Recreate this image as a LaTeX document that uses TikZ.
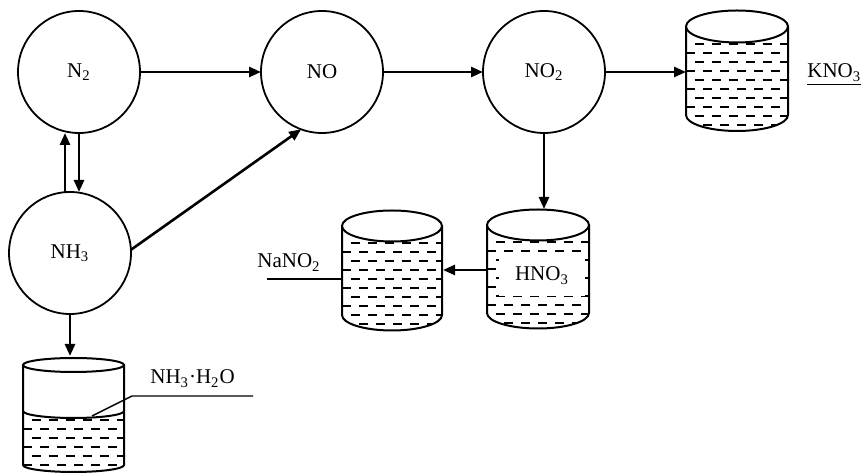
\documentclass[tikz,border=0pt]{standalone}
\usepackage{fontspec}
\setmainfont{Liberation Serif}
\usetikzlibrary{arrows.meta,positioning}

% cx, rx, ry, top y, bottom y, liquid y
\newcommand\drawbeaker[6]{%
  \pgfmathsetmacro\rowa{#6+#3+2}
  \pgfmathsetmacro\rowb{\rowa+9}
  \pgfmathsetmacro\rowz{#5+#3}
  \begin{scope}
    \clip ({#1-#2},#6) arc[start angle=180,end angle=0,x radius=#2,y radius=#3]
      -- ({#1+#2},#5) arc[start angle=0,end angle=180,x radius=#2,y radius=#3] -- cycle;
    \foreach \yy [count=\i] in {\rowa,\rowb,...,\rowz}{
      \pgfmathsetmacro\ph{mod(\i,2)*4.25}
      \draw[liquid,dash phase=\ph pt] ({#1-#2},\yy) -- ({#1+#2},\yy);
    }
  \end{scope}
  \draw[vessel] ({#1-#2},#4) -- ({#1-#2},#5)
    arc[start angle=180,end angle=0,x radius=#2,y radius=#3] -- ({#1+#2},#4);
  \draw[vessel,fill=white] (#1,#4) ellipse[x radius=#2,y radius=#3];
}

\begin{document}
\begin{tikzpicture}[x=0.5pt,y=-0.5pt,
    font=\fontsize{10.5}{12}\selectfont,
    gas/.style={draw,circle,line width=0.9pt,minimum size=61pt,inner sep=0pt,outer sep=0pt},
    flow/.style={line width=1.3pt,-{Triangle[length=6pt,width=5pt]}},
    vessel/.style={line width=1pt},
    liquid/.style={line width=1pt,dash pattern=on 4.5pt off 4pt},
    pointer/.style={line width=0.7pt},
    tag/.style={inner sep=0pt,anchor=base west}]
  \useasboundingbox (0,0) rectangle (866,474);

  % gases
  \node[gas] (n2) at (79,72) {N\textsubscript{2}};
  \node[gas,right=60.5pt of n2] (no) {NO};
  \node[gas,right=50pt of no] (notwo) {NO\textsubscript{2}};
  \node[gas,below=29.5pt of n2,xshift=-4.5pt] (nhthree) {NH\textsubscript{3}};

  % solutions
  \drawbeaker{737}{51}{16}{26.5}{115}{26.5}
  \drawbeaker{392}{50}{15.5}{226}{315}{226}
  \drawbeaker{538}{51}{15.5}{225}{313}{225}
  \drawbeaker{73.5}{50.5}{7}{365}{465}{411}
  \draw[vessel] (23,411) arc[start angle=180,end angle=0,x radius=50.5,y radius=7];

  \coordinate (kno3w) at (686,72);
  \coordinate (hno3n) at (544,209);
  \coordinate (hno3w) at (487,270);
  \coordinate (nano2e) at (443,270);
  \coordinate (ammn) at (72,356);
  \coordinate (nano2tip) at (267,279);
  \coordinate (nano2w) at (342,279);
  \coordinate (ammsurf) at (92,416);
  \coordinate (ammknee) at (132,396);
  \coordinate (ammend) at (253,396);

  \node[tag] (kno3) at (807,78) {\underline{KNO\textsubscript{3}}};
  \node[tag] (nano2) at (257,268) {NaNO\textsubscript{2}};
  \node[tag] (nh3aq) at (150,384) {NH\textsubscript{3}·H\textsubscript{2}O};
  \node[fill=white,inner xsep=8pt,inner ysep=6pt,anchor=base] (hno3) at (542,281) {HNO\textsubscript{3}};

  % reactions
  \draw[flow] (n2) -- (no);
  \draw[flow] (no) -- (notwo);
  \draw[flow] (notwo.east) -- (kno3w);
  \draw[flow] (nhthree.3) -- (no.250);
  \draw[flow] ([xshift=-2.5pt]nhthree.north) -- ([xshift=-7pt]n2.south);
  \draw[flow] (n2.south) -- ([xshift=4.5pt]nhthree.north);
  \draw[flow] (notwo.south) -- (notwo.south |- hno3n);
  \draw[flow] (hno3w) -- (nano2e);
  \draw[flow] (nhthree.south) -- (nhthree.south |- ammn);

  \draw[pointer] (nano2tip) -- (nano2w);
  \draw[pointer] (ammsurf) -- (ammknee) -- (ammend);
\end{tikzpicture}
\end{document}
